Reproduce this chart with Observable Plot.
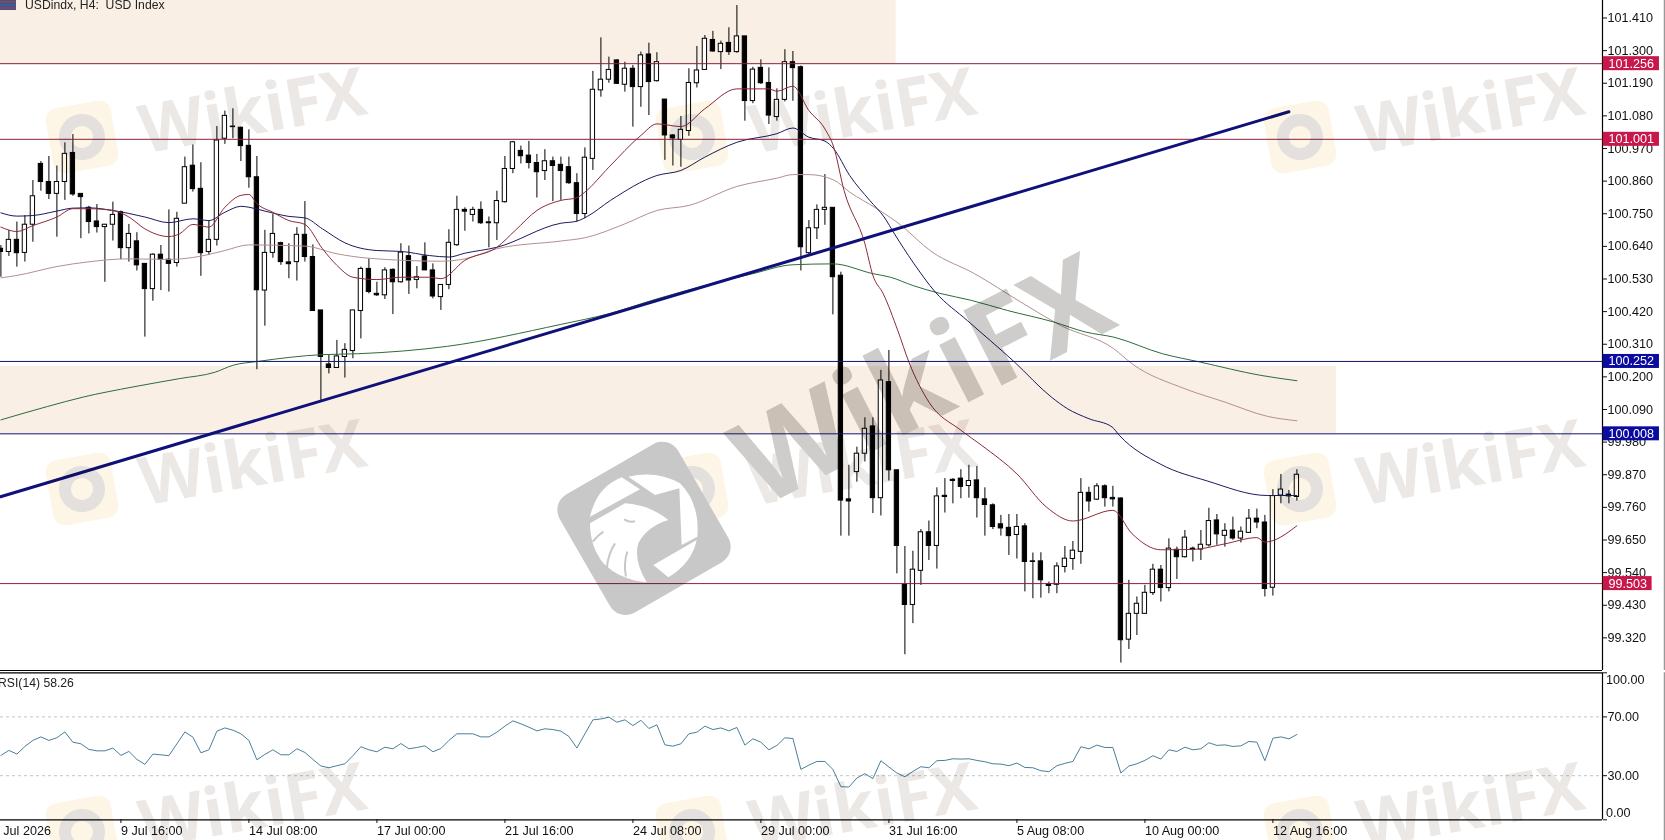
<!DOCTYPE html>
<html><head><meta charset="utf-8">
<script src="https://cdn.jsdelivr.net/npm/d3@7"></script>
<script src="https://cdn.jsdelivr.net/npm/@observablehq/plot@0.6"></script>
<style>
html,body{margin:0;padding:0;background:#fff;width:1665px;height:840px;overflow:hidden;font-family:"Liberation Sans",sans-serif}
#chart{position:absolute;left:0;top:0;width:1665px;height:840px}
#chart svg{position:absolute;left:0;background:transparent}
#wm{position:absolute;left:0;top:0;width:1665px;height:840px;mix-blend-mode:multiply;pointer-events:none;overflow:hidden}
.wt{position:absolute;font-family:"Open Sans",sans-serif;font-weight:700;white-space:nowrap;transform:translate(-50%,-50%) rotate(-10deg)}
.lg{position:absolute;transform:translate(-50%,-50%) rotate(-10deg);box-sizing:border-box}
.lg i{position:absolute;border-radius:50%;box-sizing:border-box}
#title{position:absolute;left:25px;top:-2px;font-size:12.2px;color:#222;white-space:pre}
#flag{position:absolute;left:0;top:0;width:16px;height:10px;background:repeating-linear-gradient(180deg,#8a3b45 0 1px,#35609f 1px 3px)}
#rsiT{position:absolute;left:-2px;top:676px;font-size:12.2px;color:#222;white-space:pre}
</style></head><body>
<div id="chart"></div>
<div id="flag"></div><div id="title">USDindx, H4:  USD Index</div>
<div id="rsiT">RSI(14) 58.26</div>
<div id="wm"></div>
<script>
const open=[100.632,100.621,100.662,100.618,100.713,100.918,100.857,100.817,100.857,100.955,
100.817,100.770,100.724,100.705,100.713,100.755,100.634,100.657,100.581,100.496,
100.612,100.595,100.584,100.784,100.912,100.834,100.621,100.662,101.003,101.044,
101.040,100.979,100.873,100.491,100.618,100.651,100.586,100.587,100.679,100.604,
100.424,100.242,100.230,100.267,100.287,100.422,100.564,100.480,100.475,100.561,
100.519,100.607,100.527,100.606,100.559,100.469,100.510,100.644,100.763,100.746,
100.763,100.721,100.718,100.789,100.901,100.962,100.946,100.921,100.894,100.927,
100.915,100.907,100.853,100.749,100.935,101.166,101.202,101.267,101.185,101.239,
101.177,101.287,101.197,101.135,101.014,100.999,101.029,101.190,101.235,101.336,
101.295,101.326,101.295,101.348,101.130,101.242,101.191,101.076,101.134,101.261,
101.244,100.617,100.701,100.763,100.770,100.541,99.787,99.879,99.941,100.033,
99.791,100.182,99.885,99.500,99.431,99.546,99.676,99.630,99.799,99.853,
99.857,99.832,99.851,99.787,99.767,99.703,99.691,99.667,99.696,99.578,
99.578,99.500,99.499,99.559,99.586,99.610,99.809,99.786,99.831,99.792,
99.790,99.314,99.401,99.401,99.471,99.550,99.488,99.617,99.592,99.621,
99.618,99.632,99.716,99.664,99.682,99.655,99.674,99.722,99.709,99.489,
99.800,99.803,99.795];
const close=[100.621,100.662,100.617,100.713,100.809,100.857,100.817,100.857,100.952,100.815,
100.806,100.722,100.705,100.713,100.746,100.634,100.682,100.576,100.496,100.612,
100.595,100.581,100.733,100.907,100.833,100.617,100.662,100.997,101.080,101.042,
100.978,100.873,100.492,100.618,100.682,100.587,100.580,100.679,100.604,100.422,
100.267,100.230,100.269,100.291,100.424,100.564,100.486,100.475,100.559,100.519,
100.619,100.525,100.536,100.559,100.471,100.510,100.652,100.763,100.757,100.763,
100.718,100.718,100.793,100.901,100.991,100.944,100.921,100.890,100.927,100.911,
100.894,100.853,100.749,100.939,101.168,101.202,101.235,101.188,101.239,101.177,
101.284,101.194,101.261,101.014,101.004,101.033,101.191,101.233,101.340,101.297,
101.323,101.295,101.348,101.130,101.236,101.190,101.081,101.134,101.261,101.241,
100.637,100.701,100.763,100.770,100.536,99.783,99.780,99.941,100.025,99.791,
100.188,99.885,99.630,99.431,99.550,99.676,99.630,99.797,99.795,99.849,
99.829,99.849,99.791,99.768,99.694,99.689,99.663,99.694,99.576,99.576,
99.514,99.495,99.561,99.587,99.614,99.809,99.780,99.831,99.791,99.787,
99.312,99.401,99.435,99.472,99.550,99.488,99.621,99.592,99.658,99.617,
99.634,99.714,99.669,99.681,99.655,99.678,99.722,99.709,99.485,99.798,
99.820,99.797,99.870];
const high=[100.643,100.694,100.722,100.744,100.862,100.926,100.943,100.911,100.989,101.017,
100.817,100.775,100.781,100.714,100.789,100.759,100.714,100.686,100.581,100.615,
100.643,100.763,100.755,100.941,100.982,100.922,100.727,101.044,101.096,101.104,
101.042,101.033,100.943,100.694,100.748,100.654,100.649,100.703,100.791,100.645,
100.424,100.272,100.323,100.312,100.424,100.570,100.598,100.519,100.568,100.564,
100.649,100.641,100.572,100.652,100.581,100.510,100.696,100.809,100.770,100.772,
100.790,100.739,100.826,100.943,100.994,100.978,100.994,100.950,100.966,100.941,
100.941,100.941,100.885,100.972,101.230,101.343,101.278,101.269,101.261,101.250,
101.295,101.325,101.293,101.135,101.017,101.078,101.239,101.314,101.351,101.365,
101.332,101.377,101.452,101.348,101.244,101.269,101.242,101.171,101.303,101.297,
101.248,100.727,100.780,100.882,100.770,100.553,99.902,99.963,100.062,100.062,
100.222,100.289,99.885,99.628,99.612,99.685,99.714,99.826,99.857,99.857,
99.887,99.902,99.898,99.826,99.772,99.733,99.736,99.736,99.705,99.606,
99.607,99.508,99.573,99.628,99.645,99.857,99.828,99.840,99.836,99.831,
99.792,99.514,99.458,99.497,99.568,99.564,99.654,99.626,99.682,99.626,
99.682,99.757,99.736,99.705,99.727,99.694,99.753,99.754,99.733,99.820,
99.871,99.817,99.887];
const low=[100.536,100.606,100.570,100.587,100.654,100.826,100.798,100.671,100.795,100.809,
100.666,100.682,100.685,100.519,100.658,100.595,100.587,100.557,100.334,100.455,
100.491,100.486,100.570,100.784,100.823,100.539,100.609,100.641,100.984,101.003,
100.926,100.836,100.224,100.371,100.600,100.576,100.531,100.523,100.587,100.422,
100.115,100.210,100.230,100.196,100.261,100.328,100.480,100.471,100.461,100.410,
100.516,100.478,100.497,100.559,100.463,100.424,100.494,100.640,100.691,100.722,
100.714,100.635,100.660,100.786,100.885,100.918,100.901,100.803,100.862,100.791,
100.795,100.849,100.722,100.733,100.896,101.143,101.190,101.186,101.160,101.042,
101.109,101.081,101.194,100.930,100.911,100.907,101.011,101.174,101.233,101.295,
101.236,101.284,101.291,101.062,101.121,101.186,101.051,101.062,101.127,101.129,
100.557,100.606,100.663,100.711,100.409,99.663,99.663,99.845,99.913,99.739,
99.731,99.849,99.536,99.263,99.368,99.497,99.581,99.552,99.741,99.772,
99.789,99.791,99.724,99.663,99.685,99.663,99.598,99.586,99.475,99.452,
99.454,99.469,99.469,99.539,99.548,99.568,99.744,99.783,99.761,99.761,
99.235,99.281,99.328,99.401,99.463,99.441,99.475,99.517,99.589,99.576,
99.581,99.626,99.632,99.626,99.649,99.640,99.673,99.688,99.458,99.461,
99.772,99.772,99.781];

const maRedBar=[0,2,4,7,9,11,14,16,18,21,22.3,24,26,28,30,31,32,34,36,38,40.2,42,44,47,50,53.6,55,58,62,64.3,67,70,72,73,76,80,82,85,88,92,96,97,99,101,103,104.1,105.4,108,109,110.3,112.1,113.5,116,120,122.6,127,130.7,134,139,141.4,145,149,153,157,158,162];
const maRedVal=[100.705,100.690,100.710,100.739,100.767,100.767,100.761,100.739,100.699,100.673,100.682,100.714,100.705,100.772,100.812,100.815,100.784,100.755,100.727,100.714,100.632,100.576,100.536,100.528,100.536,100.536,100.531,100.593,100.637,100.694,100.761,100.795,100.804,100.823,100.907,101.014,101.053,101.044,101.104,101.171,101.171,101.163,101.180,101.098,101.036,100.975,100.828,100.649,100.542,100.480,100.357,100.250,100.115,100.020,99.969,99.873,99.761,99.714,99.750,99.671,99.617,99.618,99.637,99.658,99.643,99.698];
const maNavyBar=[0,2,4,7,9,11,14,18,21,24,26,28,30,31,33,36,38,40.2,43,47,50,53.6,56,58,62,70,72,73.3,76.2,82,85,88,92,97,99,101,103,104.1,106.1,108.6,110.4,111.7,114,116.8,120.8,126.7,131.3,133.3,136,138.9,139.8,145,150.8,158.3,162];
const maNavyVal=[100.753,100.742,100.744,100.759,100.769,100.770,100.761,100.739,100.720,100.733,100.727,100.755,100.775,100.772,100.759,100.741,100.736,100.699,100.652,100.626,100.623,100.609,100.604,100.617,100.637,100.718,100.725,100.741,100.795,100.879,100.896,100.941,100.991,101.020,101.039,101.008,100.995,100.969,100.879,100.795,100.739,100.682,100.587,100.486,100.390,100.250,100.132,100.093,100.059,100.031,100.003,99.905,99.849,99.800,99.800];
const maRoseBar=[0,2,7,11,16,21,25,28,31,38,42,46,55,58,62,70,73,78,82,86,92,97,99,101,104.1,106.1,109.5,112,116.4,121.7,127.5,132.5,139.1,141.4,148,153,158.3,162];
const maRoseVal=[100.534,100.542,100.572,100.588,100.598,100.596,100.607,100.626,100.645,100.641,100.615,100.600,100.590,100.598,100.632,100.658,100.669,100.716,100.761,100.778,100.842,100.870,100.882,100.882,100.864,100.823,100.767,100.722,100.621,100.548,100.452,100.373,100.295,100.244,100.160,100.115,100.067,100.052];
const maGreenBar=[0,5.8,10.3,16.5,22.3,26.8,29,32.1,40.2,44.6,55.8,70,76,82,94,99,104,109,111.2,114,117.3,121.3,125.8,131.6,135.6,139.1,145.2,149.9,157.5,162];
const maGreenVal=[100.055,100.100,100.132,100.166,100.194,100.216,100.239,100.252,100.275,100.278,100.303,100.377,100.413,100.463,100.548,100.578,100.581,100.548,100.536,100.508,100.482,100.458,100.424,100.385,100.351,100.334,100.278,100.250,100.205,100.187];

const rsi=[43.8,47.2,44.7,49.9,54.0,56.4,54.0,55.8,59.8,52.8,
51.7,47.9,46.9,46.9,48.8,43.8,46.5,41.1,37.7,44.7,
44.2,43.6,51.7,59.8,56.2,45.6,47.6,60.3,62.5,61.0,
58.5,54.0,40.8,44.5,47.6,44.2,44.2,48.3,45.8,41.1,
36.6,35.4,36.8,38.1,43.6,49.7,47.6,46.3,49.4,48.3,
51.9,48.3,49.2,50.3,46.3,48.5,54.0,58.5,58.5,58.5,
56.4,56.4,59.6,63.7,67.3,65.3,63.0,60.5,61.9,61.4,
60.3,56.7,48.8,58.5,68.0,68.6,69.8,66.4,68.0,64.1,
67.7,62.1,64.6,51.0,50.1,51.7,58.5,59.6,
63.7,61.4,62.5,60.5,62.8,50.8,55.1,52.8,47.6,50.6,55.8,55.3,
34.3,37.2,39.7,39.7,34.3,22.5,22.3,28.4,31.4,28.0,40.2,35.9,
31.8,29.3,32.9,36.1,35.4,40.2,40.4,41.5,41.3,41.5,40.4,39.5,
38.1,37.9,36.8,38.6,35.6,35.4,33.4,32.7,36.8,38.4,39.7,49.7,
48.3,50.8,49.2,49.2,31.8,36.6,38.1,40.4,43.6,41.3,47.6,46.5,
49.4,47.6,48.3,52.4,50.6,51.0,49.9,50.3,53.3,52.8,40.2,55.5,
56.4,55.1,58.0];

const priceTicks=[101.41,101.30,101.19,101.08,100.97,100.86,100.75,100.64,100.53,100.42,100.31,100.20,100.09,99.98,99.87,99.76,99.65,99.54,99.43,99.32];
const rsiTicks=[70,30];
const rsiEndTicks=[100,0];
const rsiLevels=[70,30];
const timeBars=[15,31,47,63,79,95,111,127,143,159];
const timeLabels=["9 Jul 16:00","14 Jul 08:00","17 Jul 00:00","21 Jul 16:00","24 Jul 08:00","29 Jul 00:00","31 Jul 16:00","5 Aug 08:00","10 Aug 00:00","12 Aug 16:00"];
const levelPrices=[101.256,101.001,100.252,100.008,99.503];
const levelColors=["#8c1f3f","#8c1f3f","#14146e","#14146e","#8c1f3f"];
const tagColors=["#c8174a","#c8174a","#0b0ba0","#0b0ba0","#c8174a"];
const tagEnds=[207.32,207.32,207.32,207.32,206.4];
const zoneBars=[[-0.05,111.9],[-0.05,166.95]];
const zonePrices=[[101.469,101.256],[100.235,100.008]];
const trendBars=[-0.05,161];
const trendPrices=[99.796,101.094];

const bars=open.map((o,i)=>({i,o,c:close[i],h:high[i],l:low[i],up:close[i]>=o}));
const zones=zoneBars.map((b,i)=>({x1:b[0],x2:b[1],y1:zonePrices[i][0],y2:zonePrices[i][1]}));
const levels=levelPrices.map((p,i)=>({p,line:levelColors[i],tag:tagColors[i],end:tagEnds[i]}));
const series=(b,v)=>b.map((x,i)=>({x,y:v[i]}));
const FONT='"Liberation Sans",sans-serif';
const domX=[-0.05,200.2];
const CURVE="monotone-x";

const main=Plot.plot({
  width:1665,height:672,marginLeft:0,marginRight:63,marginTop:0,marginBottom:2,
  x:{domain:domX,axis:null},
  y:{domain:[99.21,101.469],axis:null},
  style:{background:"transparent",fontFamily:FONT,fontSize:"12.6px",color:"#111"},
  marks:[
    Plot.rect(zones,{x1:"x1",x2:"x2",y1:"y1",y2:"y2",fill:"#f9efe5"}),
    Plot.ruleX(bars,{x:"i",y1:"l",y2:"h",stroke:"#000",strokeWidth:1}),
    Plot.rect(bars,{x1:d=>d.i-0.27,x2:d=>d.i+0.27,y1:"o",y2:"c",fill:d=>d.up?"#fff":"#000",stroke:"#000",strokeWidth:1}),
    Plot.line(series(maRoseBar,maRoseVal),{x:"x",y:"y",stroke:"#b39090",strokeWidth:1,curve:CURVE}),
    Plot.line(series(maGreenBar,maGreenVal),{x:"x",y:"y",stroke:"#2f6b3a",strokeWidth:1,curve:CURVE}),
    Plot.line(series(maNavyBar,maNavyVal),{x:"x",y:"y",stroke:"#1a1a60",strokeWidth:1,curve:CURVE}),
    Plot.line(series(maRedBar,maRedVal),{x:"x",y:"y",stroke:"#8e2a3a",strokeWidth:1,curve:CURVE}),
    Plot.ruleY(levels,{y:"p",stroke:"line",strokeWidth:1}),
    Plot.line(series(trendBars,trendPrices),{x:"x",y:"y",stroke:"#10107a",strokeWidth:3}),
    Plot.ruleY([99.21],{stroke:"#000",strokeWidth:1.2}),
    Plot.ruleX([200.2],{stroke:"#000",strokeWidth:1.2}),
    Plot.ruleX([207.95],{y1:99.21,y2:101.469,stroke:"#999",strokeWidth:1.5}),
    Plot.axisY(priceTicks,{anchor:"right",tickSize:4,tickPadding:1,tickFormat:d=>d.toFixed(3),label:null,fontSize:12.6,fill:"#111"}),
    Plot.rect(levels,{x1:200.3,x2:"end",y1:d=>d.p-0.0236,y2:d=>d.p+0.0236,fill:"tag"}),
    Plot.text(levels,{x:200.95,y:"p",text:d=>d.p.toFixed(3),fill:"#fff",textAnchor:"start",fontSize:12.6})
  ]
});
main.style.top="0px";

const sub=Plot.plot({
  width:1665,height:168,marginLeft:0,marginRight:63,marginTop:0,marginBottom:21,
  x:{domain:domX,axis:null},
  y:{domain:[0,100],range:[147.3,0.3],axis:null},
  style:{background:"transparent",fontFamily:FONT,fontSize:"12.6px",color:"#111"},
  marks:[
    Plot.ruleY(rsiLevels,{stroke:"#c4c4c4",strokeDasharray:"3,3"}),
    Plot.line(rsi.map((v,i)=>({i,v})),{x:"i",y:"v",stroke:"#4a7f9a",strokeWidth:1}),
    Plot.ruleY([100,0],{stroke:"#000",strokeWidth:1.2}),
    Plot.ruleX([200.2],{y1:0,y2:100,stroke:"#000",strokeWidth:1.2}),
    Plot.ruleX([207.95],{y1:-14,y2:100,stroke:"#999",strokeWidth:1.5}),
    Plot.axisY(rsiTicks,{anchor:"right",tickSize:4,tickPadding:1,tickFormat:d=>d.toFixed(2),label:null,fontSize:12.6,fill:"#111"}),
    Plot.axisY(rsiEndTicks,{anchor:"right",tickSize:4,tickFormat:()=>"",label:null}),
    Plot.text([100],{x:200.65,y:d=>d,dy:7,text:d=>d.toFixed(2),textAnchor:"start",fontSize:12.6,fill:"#111"}),
    Plot.text([0],{x:200.65,y:d=>d,dy:-7,text:d=>d.toFixed(2),textAnchor:"start",fontSize:12.6,fill:"#111"}),
    Plot.axisX(timeBars,{anchor:"bottom",tickSize:4,tickPadding:3,textAnchor:"start",label:null,fontSize:12.6,fill:"#111",
      tickFormat:d=>timeLabels[timeBars.indexOf(d)]}),
    Plot.text(["Jul 2026"],{x:0.3,y:-7.5,text:d=>d,textAnchor:"start",fontSize:12.6,fill:"#111"})
  ]
});
sub.style.top="672px";
document.getElementById("chart").append(main,sub);

/* watermark layer */
const wmCols=[252,862,1470];
const wmRows=[108,460,803];
const logoCols=[82,692,1300];
const logoRows=[137,489,832];
const wm=document.getElementById("wm");
function el(cls,css,txt){const e=document.createElement("div");e.className=cls;e.style.cssText=css;if(txt)e.textContent=txt;wm.append(e);return e;}
wmRows.forEach(y=>wmCols.forEach(x=>el("wt",`left:${x}px;top:${y}px;font-size:67px;color:#ebe8e6`,"WikiFX")));
logoRows.forEach(y=>logoCols.forEach(x=>{
  const l=el("lg",`left:${x}px;top:${y}px;width:66px;height:66px;border-radius:12px;background:#fdf6e6`);
  const c=document.createElement("i");c.style.cssText="left:10px;top:10px;width:46px;height:46px;border:12px solid #e3e0dd";l.append(c);
}));
el("wt","left:920px;top:376px;font-size:118px;color:#cfcdcb;transform:translate(-50%,-50%) rotate(-27deg)","WikiFX");
const logoSvg=document.createElementNS("http://www.w3.org/2000/svg","svg");
logoSvg.setAttribute("viewBox","0 0 660 630");
logoSvg.style.cssText="position:absolute;left:540px;top:420px;width:220px;height:210px;overflow:visible";
logoSvg.innerHTML=`<rect x="107" y="120" width="410" height="410" rx="55" fill="#c9c8c8" transform="rotate(-30 312 325)"/>
<g fill="#fff">
<path d="M150,290 C165,225 200,190 245,172 L300,208 Z"/>
<path d="M265,170 Q350,150 420,190 Q480,250 472,350 L425,375 L418,205 L345,225 Z"/>
<path d="M150,310 L255,250 Q330,255 385,300 Q320,320 295,370 Q280,420 320,487 Q240,480 190,430 Q150,380 150,310Z"/>
<path d="M340,435 L470,360 Q455,430 385,472 Z"/>
</g>
<g fill="none" stroke="#c9c8c8" stroke-width="6">
<path d="M252,298 Q270,308 285,304"/><path d="M158,365 Q175,345 190,335"/><path d="M200,445 Q205,400 225,370"/><path d="M258,470 Q250,430 262,395"/>
</g>`;
wm.append(logoSvg);
</script>
</body></html>
